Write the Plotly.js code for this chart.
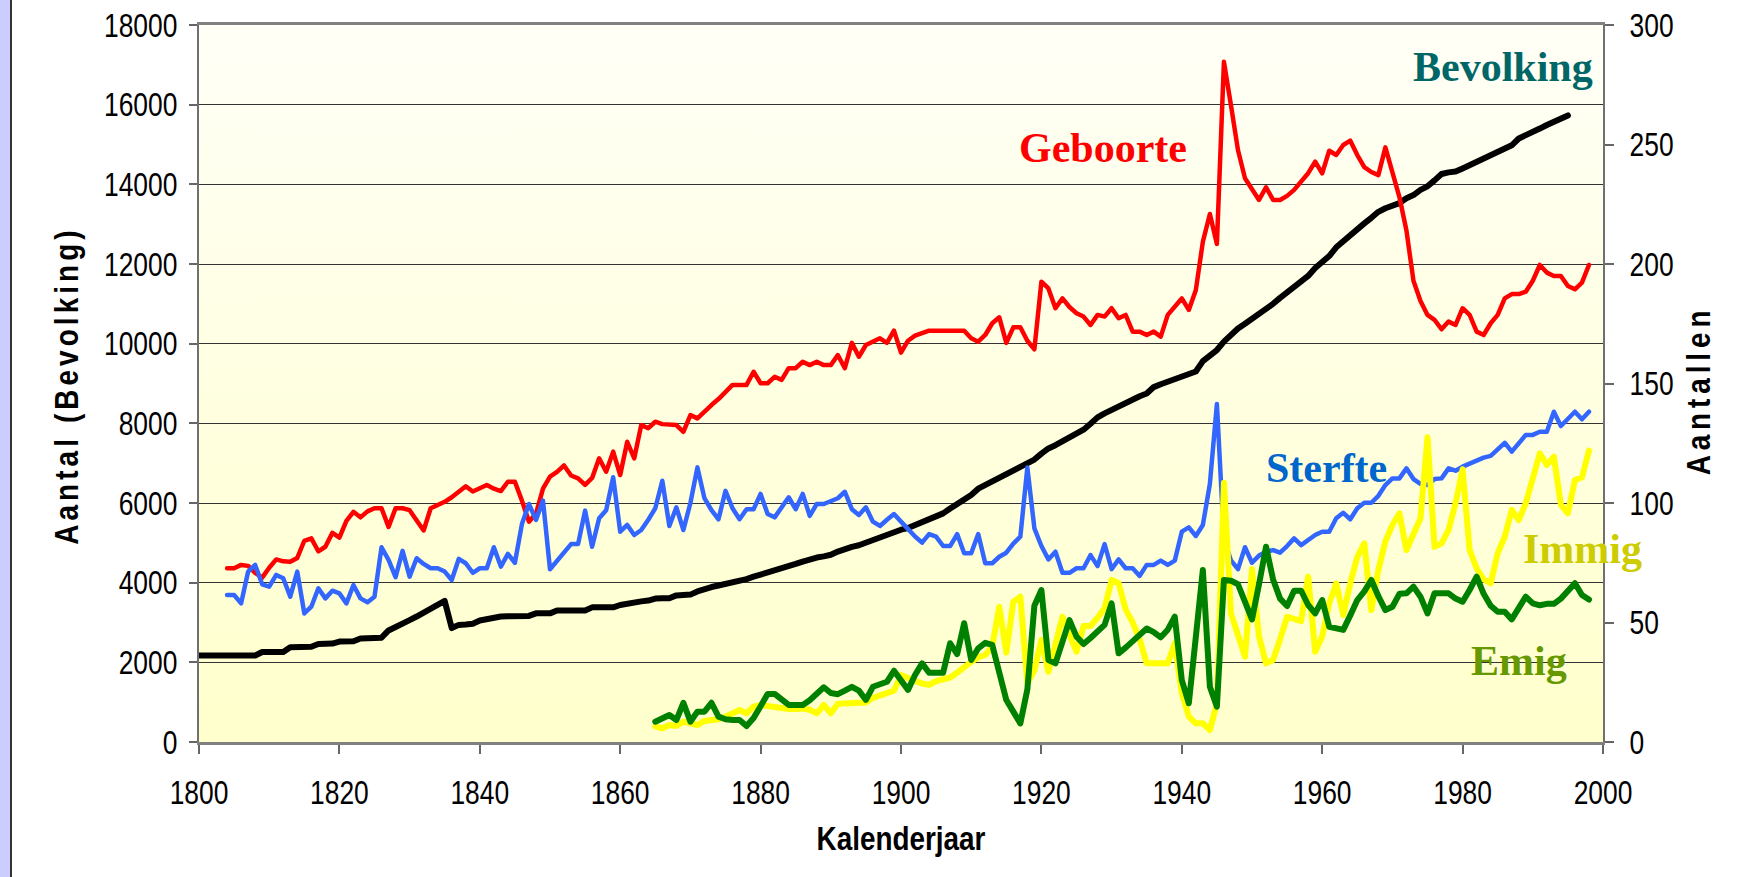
<!DOCTYPE html>
<html>
<head>
<meta charset="utf-8">
<script src="https://cdn.plot.ly/plotly-3.0.1.min.js"></script>
<style>
html, body { margin: 0; padding: 0; background: #ffffff; }
#chart { width: 1757px; height: 877px; }
.ytitle { letter-spacing: 5px; }
.y2title { letter-spacing: 6px; }
.js-line { stroke-linejoin: round !important; stroke-linecap: round !important; }
/* narrow look for the Arial-Narrow style labels */
g.xtick { transform-box: fill-box; transform-origin: center; transform: scaleX(0.8); }
g.ytick { transform-box: fill-box; transform-origin: right center; transform: scaleX(0.8); }
g.y2tick { transform-box: fill-box; transform-origin: left center; transform: scaleX(0.8); }
g.g-xtitle { transform-box: fill-box; transform-origin: center; transform: scaleX(0.82); }
g.g-ytitle { transform-box: fill-box; transform-origin: center; transform: translateY(2px) scaleY(0.82); }
g.g-y2title { transform-box: fill-box; transform-origin: center; transform: translateY(7px) scaleY(0.82); }
</style>
</head>
<body>
<div id="chart"></div>
<script>
// ---------------- DATA ----------------
const bevolkingStart = 1800;
const bevolking = [
  2170,2170,2170,2170,2170,2170,2170,2170,2170,2260,
  2260,2260,2260,2380,2380,2380,2390,2460,2460,2470,
  2520,2520,2530,2600,2600,2600,2620,2800,2900,2980,
  3060,3150,3250,3350,3480,3540,2860,2940,2950,2970,
  3050,3080,3140,3150,3155,3160,3160,3165,3230,3230,
  3230,3300,3300,3300,3300,3300,3380,3380,3380,3380,
  3440,3480,3520,3530,3550,3600,3610,3610,3680,3690,
  3700,3780,3850,3890,3930,3970,4000,4030,4090,4150,
  4200,4240,4290,4350,4410,4470,4530,4590,4630,4660,
  4700,4780,4850,4900,4940,5010,5080,5150,5220,5280,
  5330,5370,5440,5520,5590,5660,5740,5860,5970,6090,
  6200,6360,6450,6530,6620,6700,6790,6880,7000,7090,
  7240,7370,7450,7540,7630,7720,7840,7990,8150,8250,
  8340,8440,8520,8600,8680,8750,8910,8980,9050,9110,
  9180,9240,9300,9560,9700,9840,10050,10230,10380,10500,
  10620,10760,10840,11000,11150,11280,11400,11530,11700,11900,
  12050,12200,12420,12580,12700,12860,13020,13160,13310,13400,
  13470,13530,13650,13730,13860,13950,14100,14260,14300,14320,
  14400,14480,14560,14630,14720,14820,14900,14980,15150,15220,
  15310,15400,15490,15570,15640,15730
];

const geboorteStart = 1804;
const geboorte = [
  72.7,72.7,74.1,73.7,70.8,68.8,
  72.9,76.4,75.6,75.4,77,84.2,85.2,79.8,81.7,87.5,
  85.5,92.5,96.3,94,96.5,97.8,97.8,90,97.8,97.8,
  97,93,88.5,97.8,99,100.5,102.4,104.6,107,104.8,
  106,107.5,106,105,108.9,108.9,101,92.2,95.5,106,
  111,113,115.7,111.5,110.3,107.6,110.5,118.7,113.1,121.5,
  111.7,125.6,118.7,132.6,131.3,134,133,132.6,132.6,129.8,
  136.8,135.4,138.5,141,143.5,146.5,149.4,149.4,149.4,154.9,
  150.1,150.1,152.8,151.5,156.4,156.4,159.1,157.7,159.1,157.7,
  157.7,161.9,156.4,167,161.2,166.1,167.5,168.9,167,172.1,
  162.9,167.9,170,171,172.1,172.1,172.1,172.1,172.1,172.1,
  168.9,167.5,170.3,175.2,177.7,167,173.5,173.5,167.9,164.3,
  192.6,189.8,181.5,185.6,182,179.4,178,174.5,178.7,178,
  181.5,177.3,178.7,171.7,171.7,170.3,171.7,169.6,178.7,182,
  185.6,180.8,189.1,209.3,220.9,208.4,284.6,266.5,247.7,235.9,
  231,226.8,232.1,226.8,226.8,228.5,231,234.5,238,242.8,
  237.9,247.4,245.6,249.8,251.6,245.6,240.5,238.5,237.2,248.8,
  238,228,214,193,184.5,178.7,176.6,172.7,175.9,174.5,
  181.5,178.7,171.7,170.3,175.2,178.7,185.6,187.4,187.4,188.4,
  193,199.6,196.4,195,195,190.8,189.4,192.2,199.6
];

const sterfteStart = 1804;
const sterfte = [
  61.5,61.5,58,71.3,74.1,66,
  65,69.9,68.5,60.8,71.3,53.8,56.6,64.3,60.1,63.3,
  62.2,58,65.7,60.1,58.5,60.8,81.5,76.2,69,80,
  69.2,76.9,74.5,72.7,72.7,71.3,67.8,76.6,74.8,70.8,
  72.7,72.7,81.5,73.4,78.7,75,91.2,99.6,92.9,101,
  72.3,76,79.6,82.8,82.8,96.8,81.7,93.6,97,110.8,
  88,90.8,86.6,88.7,93,97.8,109.3,90.4,98.2,88.7,
  100,114.9,102,97,93.2,105.1,97.8,93.2,97.4,97.4,
  103.8,95.4,94,98,102.4,97.4,103.8,94.6,99.6,99.6,
  101,102,104.7,97.4,95,98.2,92.2,90.4,93,95.4,
  92.2,89,86,83.4,87,85.9,82,82,87,79,
  79,87,74.8,74.8,77.5,79.2,83,85.9,114.9,89.4,
  82,76.4,79.6,70.8,70.8,72.7,72.7,78.2,73.6,82.8,
  72.3,76.4,72.7,72.7,69.5,74.1,74.1,75.9,74.1,75.9,
  88,89.8,86.2,90.8,108,141.4,85,76,72.3,81.5,
  75,78,79.6,80.3,79.2,82,85.2,82.4,84.5,86.6,
  88,88,93.6,95.9,93.2,97.8,100.1,100.1,103,107.5,
  110.3,110.3,114.5,110,108,107.5,110,110.3,114.5,113.5,
  115.2,116.6,118,119,119.7,122.2,125.2,121.5,125.2,128.5,
  128.5,129.8,129.8,138.2,132.2,135,138.2,135,138.2
];

const immigStart = 1865;
const immig = [
  6.5,5.7,7.1,6.7,8.5,
  8,7.1,8.8,9.2,9.5,10.6,12,13.4,12,14.8,
  15.5,15,14.2,13.8,13.8,13.8,14,13.5,12,15.5,
  12,16,16,16,16,16.5,18.5,19.5,20.4,21.5,
  28,26.6,25.5,24.5,23.9,25.5,26,27,29,31.5,
  33.5,35.5,36.4,40,56.6,37.4,58.7,60.8,24.6,30,
  42.7,29.4,39.9,52.4,44.8,37.8,48.5,48.5,52,56,
  67.8,66.4,55.5,50,43,32.9,32.9,32.9,33,41.3,
  20.4,10.6,7.8,7.8,5,16.2,108.5,53.8,45,35.7,
  72.3,44.1,32.9,34.3,43,52.4,51.5,50.6,69.2,37.8,
  44.1,58,66.4,53.1,66.4,77.5,83.1,55.2,72,84,
  90.8,95.7,80.3,86.6,93.6,127.5,81.7,83.1,88.7,100,
  114.1,80.3,72.7,68,66.4,79,85.9,97.1,92.9,99.9,
  110,120.8,115.9,119.4,99.2,95.7,109.6,110.7,121.9
];

const emigStart = 1865;
const emig = [
  8.5,9.9,11.3,9.2,16.4,
  8.5,12.7,12.7,16.4,10.6,9.5,9.2,9.2,6.7,10,
  15,20.1,20.1,17.5,15.5,15.5,15.5,17.5,20.5,22.9,
  20.5,20,21.5,23.1,21.5,17.6,23.1,24,25.2,29.8,
  25.6,21.8,28,32.9,29,29,29,41.3,36.8,49.7,
  34.3,39.2,41.5,40.6,30,17.6,12.7,7.8,22,57,
  63.6,34.3,32.9,41.3,51,44.1,41,43.5,46.5,49,
  58,37.1,39.5,42,44.5,47.5,46,43.8,47,52.4,
  25.9,16.2,44,72,23.1,14.8,67.8,67.5,66,59.4,
  51.3,66,81.7,68,60,56.9,63.3,63.3,57.3,53.8,
  59.4,48.2,47.5,46.9,53,59.4,63,67.8,61,55.2,
  56.6,62,62.2,65,60.8,53.8,62.2,62.2,62.2,60,
  58.7,63.6,69.2,62,57,54.5,54.5,51.3,56.6,60.8,
  58,57.2,57.8,57.8,60,63,66.4,61.5,59.6
];

const seriesLabels = ["Bevolking", "Geboorte", "Sterfte", "Immig", "Emig"];
const xTitle = "Kalenderjaar";
const yTitle = "Aantal (Bevolking)";
const y2Title = "Aantallen";

// ---------------- HELPERS ----------------
function yearsFor(start, arr) { return arr.map((_, i) => start + i); }

const SANS = "'Liberation Sans', Arial, sans-serif";
const SERIF = "'Liberation Serif', 'Times New Roman', serif";

// plot area geometry (px) used for paper-relative decorations
const PLOT_L = 199, PLOT_R = 1603, PLOT_T = 25, PLOT_B = 742, W = 1757, H = 877;
const PW = PLOT_R - PLOT_L, PH = PLOT_B - PLOT_T;
const px2x = px => (px - PLOT_L) / PW;
const py2y = py => (PLOT_B - py) / PH;

function lineTrace(name, start, arr, color, width, axis) {
  return {
    type: 'scatter', mode: 'lines', name: name,
    x: yearsFor(start, arr), y: arr, yaxis: axis,
    line: { color: color, width: width, shape: 'linear' },
    hoverinfo: 'skip', showlegend: false
  };
}

const traces = [
  lineTrace(seriesLabels[0], bevolkingStart, bevolking, '#000000', 6, 'y'),
  lineTrace(seriesLabels[1], geboorteStart, geboorte, '#FF0000', 4.5, 'y2'),
  lineTrace(seriesLabels[2], sterfteStart, sterfte, '#3366FF', 4.5, 'y2'),
  lineTrace(seriesLabels[3], immigStart, immig, '#FFFF00', 6, 'y2'),
  lineTrace(seriesLabels[4], emigStart, emig, '#008000', 6, 'y2')
];

// gradient background for plot area (SVG data URI)
const gradSvg = "<svg xmlns='http://www.w3.org/2000/svg' width='100' height='100' preserveAspectRatio='none'>" +
  "<defs><linearGradient id='g' x1='0' y1='0' x2='0' y2='1'>" +
  "<stop offset='0' stop-color='#FFFFF7'/><stop offset='1' stop-color='#FFFFCC'/>" +
  "</linearGradient></defs><rect width='100' height='100' fill='url(#g)'/></svg>";
const gradUri = "data:image/svg+xml;charset=utf-8," + encodeURIComponent(gradSvg);

const tickFont = { family: SANS, size: 33, color: '#000000' };
const titleFont = { family: SANS, size: 34, color: '#000000', weight: 'bold' };

const layout = {
  width: W, height: H,
  margin: { l: PLOT_L, r: W - PLOT_R, t: PLOT_T, b: H - PLOT_B },
  paper_bgcolor: '#FFFFFF',
  plot_bgcolor: 'rgba(0,0,0,0)',
  showlegend: false,
  images: [{
    source: gradUri, xref: 'paper', yref: 'paper', x: 0, y: 1, sizex: 1, sizey: 1,
    xanchor: 'left', yanchor: 'top', sizing: 'stretch', layer: 'below'
  }],
  xaxis: {
    range: [1800, 2000], tick0: 1800, dtick: 20, tickmode: 'linear', tickformat: 'd',
    ticks: 'outside', ticklen: 9, tickwidth: 2, tickcolor: '#666666',
    showline: true, linecolor: '#808080', linewidth: 3, mirror: true,
    showgrid: false, zeroline: false, tickfont: tickFont, ticklabelstandoff: 10,
    title: { text: xTitle, font: titleFont, standoff: 17 }
  },
  yaxis: {
    range: [0, 18000], tick0: 0, dtick: 2000, tickmode: 'linear', tickformat: 'd',
    ticks: 'outside', ticklen: 8, tickwidth: 2, tickcolor: '#666666',
    showline: true, linecolor: '#707070', linewidth: 2,
    showgrid: true, gridcolor: '#333333', gridwidth: 1, zeroline: false,
    tickfont: tickFont, ticklabelstandoff: 5,
    title: { text: yTitle, font: titleFont, standoff: 15 }
  },
  yaxis2: {
    overlaying: 'y', side: 'right',
    range: [0, 300], tick0: 0, dtick: 50, tickmode: 'linear', tickformat: 'd',
    ticks: 'outside', ticklen: 9, tickwidth: 2, tickcolor: '#666666',
    showline: true, linecolor: '#707070', linewidth: 2,
    showgrid: false, zeroline: false,
    tickfont: tickFont, ticklabelstandoff: 9,
    title: { text: y2Title, font: titleFont, standoff: 14 }
  },
  shapes: [
    { type: 'rect', xref: 'paper', yref: 'paper', layer: 'above',
      x0: px2x(0), x1: px2x(11), y0: py2y(H), y1: py2y(0),
      fillcolor: '#CCCCFF', line: { width: 0 } },
    { type: 'line', xref: 'paper', yref: 'paper', layer: 'above',
      x0: px2x(11), x1: px2x(11), y0: py2y(H), y1: py2y(0),
      line: { color: '#333333', width: 2 } }
  ],
  annotations: [
    { text: '<b>Geboorte</b>', x: px2x(1103), y: py2y(148), xref: 'paper', yref: 'paper',
      showarrow: false, xanchor: 'center', yanchor: 'middle', font: { family: SERIF, size: 42, color: '#FF0000' } },
    { text: '<b>Bevolking</b>', x: px2x(1503), y: py2y(67), xref: 'paper', yref: 'paper',
      showarrow: false, xanchor: 'center', yanchor: 'middle', font: { family: SERIF, size: 42, color: '#006666' } },
    { text: '<b>Sterfte</b>', x: px2x(1326), y: py2y(468), xref: 'paper', yref: 'paper',
      showarrow: false, xanchor: 'center', yanchor: 'middle', font: { family: SERIF, size: 42, color: '#0066CC' } },
    { text: '<b>Immig</b>', x: px2x(1582), y: py2y(549), xref: 'paper', yref: 'paper',
      showarrow: false, xanchor: 'center', yanchor: 'middle', font: { family: SERIF, size: 42, color: '#CCCC00' } },
    { text: '<b>Emig</b>', x: px2x(1519), y: py2y(661), xref: 'paper', yref: 'paper',
      showarrow: false, xanchor: 'center', yanchor: 'middle', font: { family: SERIF, size: 42, color: '#669900' } }
  ]
};

Plotly.newPlot('chart', traces, layout, { staticPlot: true, displayModeBar: false });
</script>
</body>
</html>
